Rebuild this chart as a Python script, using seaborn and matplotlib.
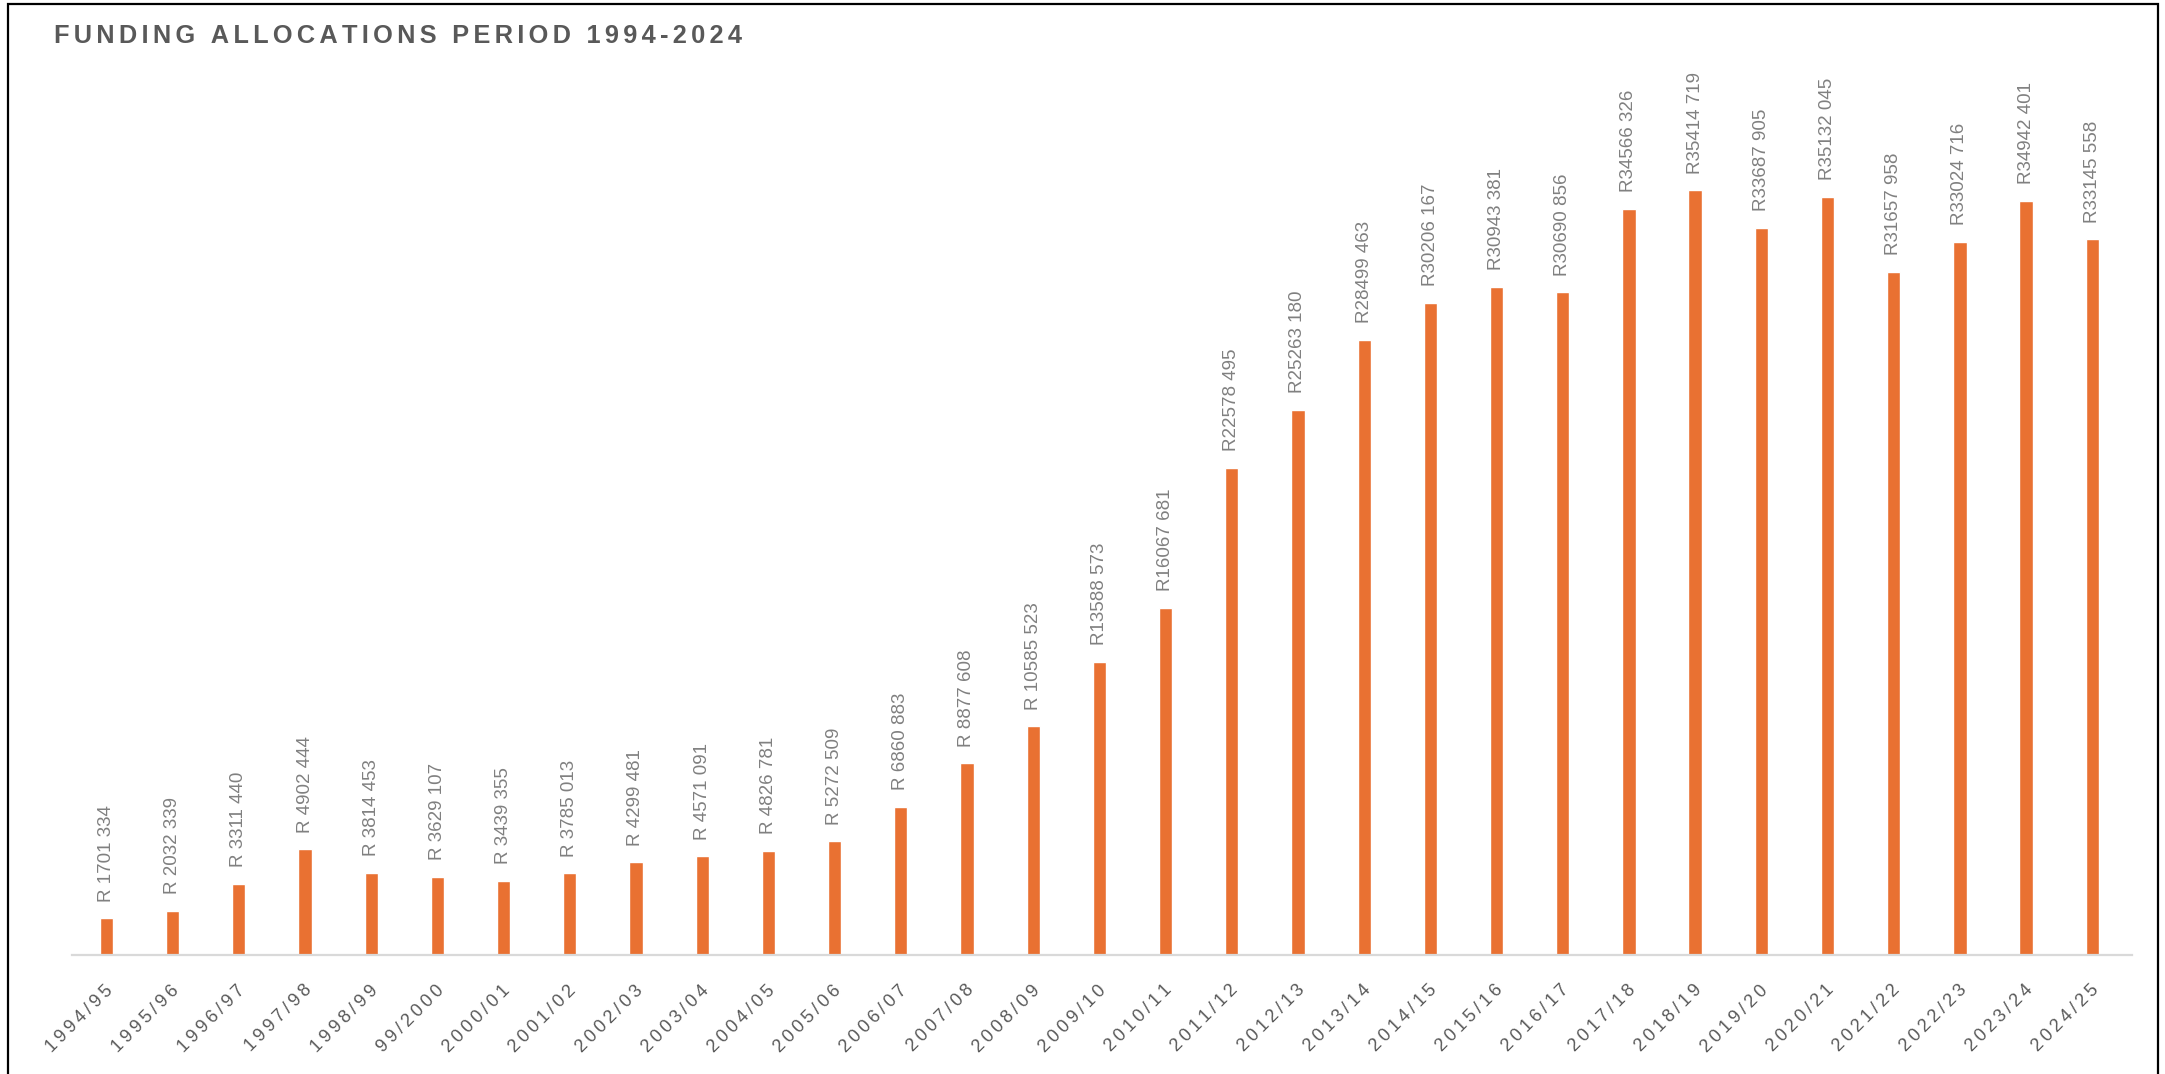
import matplotlib
matplotlib.use("Agg")
import matplotlib.pyplot as plt
import matplotlib.transforms as mtransforms
from matplotlib.patches import Rectangle
import seaborn as sns
import pandas as pd

# Financial years and allocated amounts (rand)
years = ["1994/95", "1995/96", "1996/97", "1997/98", "1998/99", "99/2000",
         "2000/01", "2001/02", "2002/03", "2003/04", "2004/05", "2005/06",
         "2006/07", "2007/08", "2008/09", "2009/10", "2010/11", "2011/12",
         "2012/13", "2013/14", "2014/15", "2015/16", "2016/17", "2017/18",
         "2018/19", "2019/20", "2020/21", "2021/22", "2022/23", "2023/24",
         "2024/25"]
amounts = [1701334, 2032339, 3311440, 4902444, 3814453, 3629107,
           3439355, 3785013, 4299481, 4571091, 4826781, 5272509,
           6860883, 8877608, 10585523, 13588573, 16067681, 22578495,
           25263180, 28499463, 30206167, 30943381, 30690856, 34566326,
           35414719, 33687905, 35132045, 31657958, 33024716, 34942401,
           33145558]
title = "FUNDING ALLOCATIONS PERIOD 1994-2024"

BAR = "#E97132"
LABEL_GREY = "#808080"
TEXT_GREY = "#595959"
AXIS_GREY = "#D9D9D9"

sns.set_theme(style="white")
plt.rcParams["font.family"] = ["Liberation Sans", "DejaVu Sans"]


def tracked(s, gap="\u2009"):
    """Letter-spaced version of a string."""
    return gap.join(s)


def rand_label(v):
    thousands, rest = divmod(v, 1000)
    prefix = "R " if v < 11_000_000 else "R"
    return f"{prefix}{thousands} {rest:03d}"


df = pd.DataFrame({"year": years, "amount": amounts})

W, H = 2165, 1074
fig = plt.figure(figsize=(W / 100, H / 100), dpi=100)
ax = fig.add_axes([72 / W, 1 - 955 / H, (2132 - 72) / W, (955 - 60) / H])

sns.barplot(data=df, x="year", y="amount", order=years, color=BAR,
            saturation=1, width=0.2, ax=ax)

ax.set_xlim(-0.52, 30.6)
ax.set_ylim(0, 41.46e6)
ax.set_xlabel("")
ax.set_ylabel("")
ax.set_yticks([])

for side in ("top", "right", "left"):
    ax.spines[side].set_visible(False)
ax.spines["bottom"].set_color(AXIS_GREY)
ax.spines["bottom"].set_linewidth(1.6)

# Value labels above each bar
for i, v in enumerate(amounts):
    ax.annotate(rand_label(v), xy=(i, v), xytext=(0, 12),
                textcoords="offset points", rotation=90,
                ha="center", va="bottom", fontsize=13.5, color=LABEL_GREY)

# Category labels, rotated and letter-spaced
ax.set_xticks(range(len(years)))
ax.set_xticklabels([tracked(y, "\u2009") for y in years])
ax.tick_params(axis="x", length=0, pad=23.6, labelsize=13,
               labelcolor=TEXT_GREY)
shift = mtransforms.ScaledTranslation(4 / 100, 0, fig.dpi_scale_trans)
for lab in ax.get_xticklabels():
    lab.set_rotation(45)
    lab.set_ha("right")
    lab.set_va("center")
    lab.set_rotation_mode("anchor")
    lab.set_transform(lab.get_transform() + shift)

fig.text(54 / W, 1 - 43 / H, tracked(title, "\u2006"), fontsize=18.3,
         fontweight="bold", color=TEXT_GREY, ha="left", va="baseline")

# Outer frame
fig.patches.append(Rectangle((8 / W, -0.01), (2158 - 8) / W, 1.01 - 4 / H,
                             transform=fig.transFigure, fill=False,
                             edgecolor="black", linewidth=1.6))

fig.savefig("out.png", dpi=100, facecolor="white")
